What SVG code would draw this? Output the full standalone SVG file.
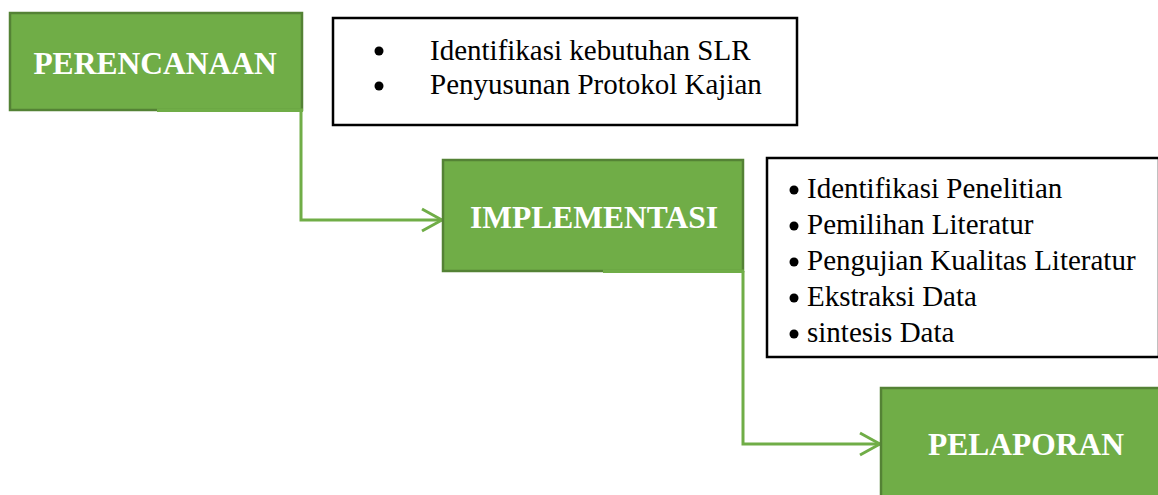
<svg xmlns="http://www.w3.org/2000/svg" width="1158" height="495" viewBox="0 0 1158 495">
<style>
.stage{fill:#70AD47;stroke:#548235;stroke-width:2.5}
.patch{fill:#70AD47}
.label{font-family:"Liberation Serif","Times New Roman",serif;font-weight:bold;font-size:31.5px;fill:#ffffff;text-anchor:middle}
.note{fill:#ffffff;stroke:#000000;stroke-width:2.5}
.item{font-family:"Liberation Serif","Times New Roman",serif;font-size:29px;fill:#000000}
.dot{fill:#000000}
.conn{fill:none;stroke:#70AD47;stroke-width:3}
</style>
<defs>
<marker id="arrow" markerUnits="userSpaceOnUse" viewBox="0 0 24 26" refX="22" refY="13" markerWidth="24" markerHeight="26" orient="auto">
<path d="M2,2 L22,13 L2,24" fill="none" stroke="#70AD47" stroke-width="3"/>
</marker>
</defs>
<rect width="1158" height="495" fill="#ffffff"/>
<g id="connectors">
<path class="conn" d="M301,110 L301,220 L442,220" marker-end="url(#arrow)"/>
<path class="conn" d="M743,271 L743,444 L880,444" marker-end="url(#arrow)"/>
</g>
<g id="perencanaan">
<rect class="stage" x="10" y="13" width="292" height="97"/>
<rect class="patch" x="157" y="108.5" width="146" height="3.5"/>
<text class="label" x="155" y="74">PERENCANAAN</text>
</g>
<g id="note-perencanaan">
<rect class="note" x="333" y="18" width="464" height="107"/>
<circle class="dot" cx="379" cy="51" r="4.5"/>
<text class="item" x="430" y="60">Identifikasi kebutuhan SLR</text>
<circle class="dot" cx="379" cy="86" r="4.5"/>
<text class="item" x="430" y="94">Penyusunan Protokol Kajian</text>
</g>
<g id="implementasi">
<rect class="stage" x="443" y="160" width="300" height="111"/>
<rect class="patch" x="603" y="269.5" width="141" height="3.5"/>
<text class="label" x="594" y="228">IMPLEMENTASI</text>
</g>
<g id="note-implementasi">
<rect class="note" x="767" y="158" width="392" height="199"/>
<circle class="dot" cx="794" cy="190" r="4.5"/>
<text class="item" x="807" y="198">Identifikasi Penelitian</text>
<circle class="dot" cx="794" cy="226" r="4.5"/>
<text class="item" x="807" y="234">Pemilihan Literatur</text>
<circle class="dot" cx="794" cy="262" r="4.5"/>
<text class="item" x="807" y="270">Pengujian Kualitas Literatur</text>
<circle class="dot" cx="794" cy="298" r="4.5"/>
<text class="item" x="807" y="306">Ekstraksi Data</text>
<circle class="dot" cx="794" cy="334" r="4.5"/>
<text class="item" x="807" y="342">sintesis Data</text>
</g>
<g id="pelaporan">
<rect class="stage" x="881" y="388" width="290" height="120"/>
<text class="label" x="1026" y="455">PELAPORAN</text>
</g>
</svg>
